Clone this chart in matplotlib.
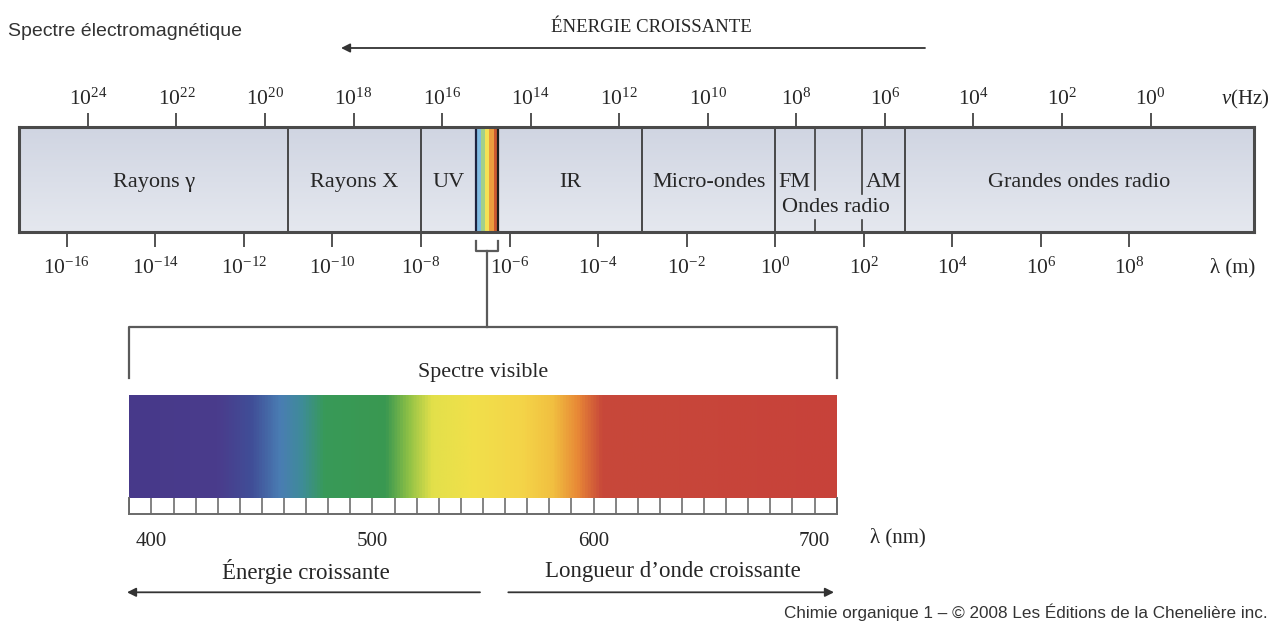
import numpy as np
import matplotlib
matplotlib.use("Agg")
import matplotlib.pyplot as plt
from matplotlib.colors import LinearSegmentedColormap
from matplotlib.transforms import Affine2D, blended_transform_factory
from matplotlib.ticker import NullLocator

# ---------------- data ----------------
C_LIGHT = 3e8  # m/s
LAMBDA_RANGE = (10 ** -17.08, 10 ** 10.82)          # metres shown on the band
wl_tick_exp = list(range(-16, 9, 2))                 # lambda (m) ticks
freq_tick_exp = list(range(24, -1, -2))              # nu (Hz) ticks

region_names = ["Rayons γ", "Rayons X", "UV", "IR", "Micro-ondes", "Grandes ondes radio"]
region_lo = [LAMBDA_RANGE[0], 1e-11, 1e-8, 10 ** -6.26, 1e-3, 10 ** 2.92]
region_hi = [1e-11, 1e-8, 10 ** -6.75, 1e-3, 1e0, LAMBDA_RANGE[1]]
full_boundaries = [1e-11, 1e-8, 10 ** -6.75, 10 ** -6.26, 1e-3, 1e0, 10 ** 2.92]

radio_names = ["FM", "AM"]
radio_lo = [1e0, 10 ** 1.96]
radio_hi = [10 ** 0.89, 10 ** 2.92]
radio_group = ("Ondes radio", 1e0, 10 ** 2.92)

visible_band = (10 ** -6.75, 10 ** -6.26)
visible_stripe_colors = ["#80bbe2", "#a3d08a", "#f3e256", "#ec9c3e", "#cd5a30"]

vis_range_nm = (390, 710)
vis_ticks_nm = [400, 500, 600, 700]
vis_cell_nm = list(range(390, 711, 10))
spectrum_nm = [390, 430, 445, 458, 468, 478, 506, 516, 527, 545, 568, 582, 593, 604, 710]
spectrum_col = ["#47398a", "#4a3c8c", "#404e97", "#4a7db3", "#3e8c98", "#389a58",
                "#3a9851", "#8dc046", "#e3e04a", "#f1e04b", "#f4d448", "#f1bf40",
                "#e88836", "#c8483a", "#c7423a"]

# ---------------- figure ----------------
W, H = 1276, 627
plt.rcParams["font.family"] = ["Liberation Serif", "DejaVu Serif"]
plt.rcParams["mathtext.fontset"] = "custom"
plt.rcParams["mathtext.rm"] = "Liberation Serif"
plt.rcParams["mathtext.it"] = "Liberation Serif:italic"
TXT = "#262626"
LINE = "#3c3c3c"

fig = plt.figure(figsize=(W / 100, H / 100), dpi=100)
PX = Affine2D().scale(1 / W, -1 / H).translate(0, 1) + fig.transFigure


def rect(x0, y0, x1, y1):
    return [x0 / W, 1 - y1 / H, (x1 - x0) / W, (y1 - y0) / H]


# ---- main band ----
band_rect = rect(19, 126.7, 1254.3, 231.7)
ax_bg = fig.add_axes(band_rect, zorder=0)
grad = np.linspace(0, 1, 64)[:, None]
bg_cmap = LinearSegmentedColormap.from_list("bg", ["#d0d5e2", "#e5e8ef"])
ax_bg.imshow(grad, aspect="auto", cmap=bg_cmap, extent=(0, 1, 1, 0))
ax_bg.set_axis_off()

ax = fig.add_axes(band_rect, zorder=1)
ax.set_facecolor("none")
ax.set_xscale("log")
ax.set_xlim(*LAMBDA_RANGE)
ax.set_ylim(0, 1)
ax.set_yticks([])
for s in ax.spines.values():
    s.set_linewidth(2.2)
    s.set_color("#4a4a4a")

# visible stripe inside the band
edges = np.logspace(np.log10(visible_band[0]), np.log10(visible_band[1]), len(visible_stripe_colors) + 1)
for i, c in enumerate(visible_stripe_colors):
    ax.axvspan(edges[i], edges[i + 1], color=c, lw=0)

for b in full_boundaries:
    ax.axvline(b, color=LINE, lw=1.3)
ax.axvline(visible_band[0], color="#1d2340", lw=1.6)
ax.axvline(visible_band[1], color="#1d1d1d", lw=1.6)

# partial lines inside "Ondes radio"
ax.axvline(radio_hi[0], ymin=0.40, ymax=1, color=LINE, lw=1.2)
ax.axvline(radio_hi[0], ymin=0, ymax=0.11, color=LINE, lw=1.2)
ax.axvline(radio_lo[1], ymin=0.36, ymax=1, color=LINE, lw=1.2)
ax.axvline(radio_lo[1], ymin=0, ymax=0.11, color=LINE, lw=1.2)

LBL = 16
for n, lo, hi in zip(region_names, region_lo, region_hi):
    ax.text(np.sqrt(lo * hi), 0.465, n, ha="center", va="center", fontsize=LBL, color=TXT)
for n, lo, hi in zip(radio_names, radio_lo, radio_hi):
    ax.text(np.sqrt(lo * hi), 0.465, n, ha="center", va="center", fontsize=LBL, color=TXT)
ax.text(np.sqrt(radio_group[1] * radio_group[2]) * 0.80, 0.235, radio_group[0],
        ha="center", va="center", fontsize=LBL, color=TXT)

# bottom axis: wavelength
TICK_FS = 15.5
ax.set_xticks([10.0 ** e for e in wl_tick_exp])
ax.set_xticklabels([r"$\mathregular{10^{%d}}$" % e for e in wl_tick_exp])
ax.xaxis.set_minor_locator(NullLocator())
ax.tick_params(axis="x", direction="out", length=11, width=1.3, color="#444444",
               pad=8, labelsize=TICK_FS, labelcolor=TXT)

# top axis: frequency
sec = ax.secondary_xaxis("top", functions=(lambda x: C_LIGHT / x, lambda x: C_LIGHT / x))
sec.set_xticks([10.0 ** e for e in freq_tick_exp])
sec.set_xticklabels([r"$\mathregular{10^{%d}}$" % e for e in freq_tick_exp])
sec.xaxis.set_minor_locator(NullLocator())
sec.tick_params(axis="x", direction="out", length=10, width=1.3, color="#444444",
                pad=2, labelsize=TICK_FS, labelcolor=TXT)
for s in sec.spines.values():
    s.set_visible(False)

fig.text(1245 / W, 1 - 99 / H, r"$\nu$(Hz)", ha="center", va="center", fontsize=15, color=TXT)
fig.text(1233 / W, 1 - 268 / H, "λ (m)", ha="center", va="center", fontsize=15, color=TXT)

# ---- connectors ----
bx = blended_transform_factory(ax.transData, PX)
vlo, vhi = visible_band
vmid = np.sqrt(vlo * vhi)
ax_line_kw = dict(color="#5a5a5a", lw=1.6, clip_on=False, zorder=3)
fig.add_artist(plt.Line2D([vlo, vlo, vhi, vhi], [241, 251, 251, 241], transform=bx, **ax_line_kw))
fig.add_artist(plt.Line2D([vmid, vmid], [251, 327.3], transform=bx, **ax_line_kw))
fig.add_artist(plt.Line2D([129.3, 129.3, 836.7, 836.7], [378, 327.3, 327.3, 378], transform=PX, **ax_line_kw))
fig.text(483 / W, 1 - 373 / H, "Spectre visible", ha="center", va="center", fontsize=15.8, color=TXT)

# ---- visible spectrum ----
ax_sp = fig.add_axes(rect(129.3, 395, 836.7, 498.3))
pos = [(w - vis_range_nm[0]) / (vis_range_nm[1] - vis_range_nm[0]) for w in spectrum_nm]
sp_cmap = LinearSegmentedColormap.from_list("vis", list(zip(pos, spectrum_col)))
ax_sp.imshow(np.linspace(0, 1, 1000)[None, :], aspect="auto", cmap=sp_cmap,
             extent=(vis_range_nm[0], vis_range_nm[1], 0, 1))
ax_sp.set_xlim(*vis_range_nm)
ax_sp.set_axis_off()

ax_st = fig.add_axes(rect(129.3, 498.3, 836.7, 514.3))
ax_st.set_xlim(*vis_range_nm)
ax_st.set_ylim(0, 1)
for w in vis_cell_nm:
    ax_st.axvline(w, color="#7a7a7a", lw=1.3)
for k, s in ax_st.spines.items():
    s.set_color("#6a6a6a")
    s.set_linewidth(1.4)
ax_st.spines["top"].set_visible(False)
ax_st.set_yticks([])
ax_st.set_xticks(vis_ticks_nm)
ax_st.set_xticklabels([str(v) for v in vis_ticks_nm])
ax_st.tick_params(axis="x", length=0, pad=13, labelsize=15, labelcolor=TXT)

fig.text(898 / W, 1 - 538 / H, "λ (nm)", ha="center", va="center", fontsize=15, color=TXT)
fig.text(306 / W, 1 - 571 / H, "Énergie croissante", ha="center", va="center", fontsize=16.5, color=TXT)
fig.text(673 / W, 1 - 571 / H, "Longueur d’onde croissante", ha="center", va="center", fontsize=16.5, color=TXT)

arrow_kw = dict(arrowstyle="-|>", color="#333333", lw=1.3, mutation_scale=13, shrinkA=0, shrinkB=0)
fig.add_artist(matplotlib.patches.FancyArrowPatch((480, 592.3), (127, 592.3), transform=PX, **arrow_kw))
fig.add_artist(matplotlib.patches.FancyArrowPatch((508.3, 592.3), (834, 592.3), transform=PX, **arrow_kw))

# ---- top titles ----
fig.text(8 / W, 1 - 31 / H, "Spectre électromagnétique", ha="left", va="center",
         fontsize=14, color="#333333", family=["Liberation Sans", "DejaVu Sans"])
fig.text(651 / W, 1 - 28 / H, "ÉNERGIE CROISSANTE", ha="center", va="center",
         fontsize=13.5, color=TXT)
fig.add_artist(matplotlib.patches.FancyArrowPatch((925, 48), (341, 48), transform=PX, **arrow_kw))

fig.text(1268 / W, 1 - 612 / H, "Chimie organique 1 – © 2008 Les Éditions de la Chenelière inc.",
         ha="right", va="center", fontsize=12.3, color="#333333", family=["Liberation Sans", "DejaVu Sans"])

fig.savefig("out.png", dpi=100)
